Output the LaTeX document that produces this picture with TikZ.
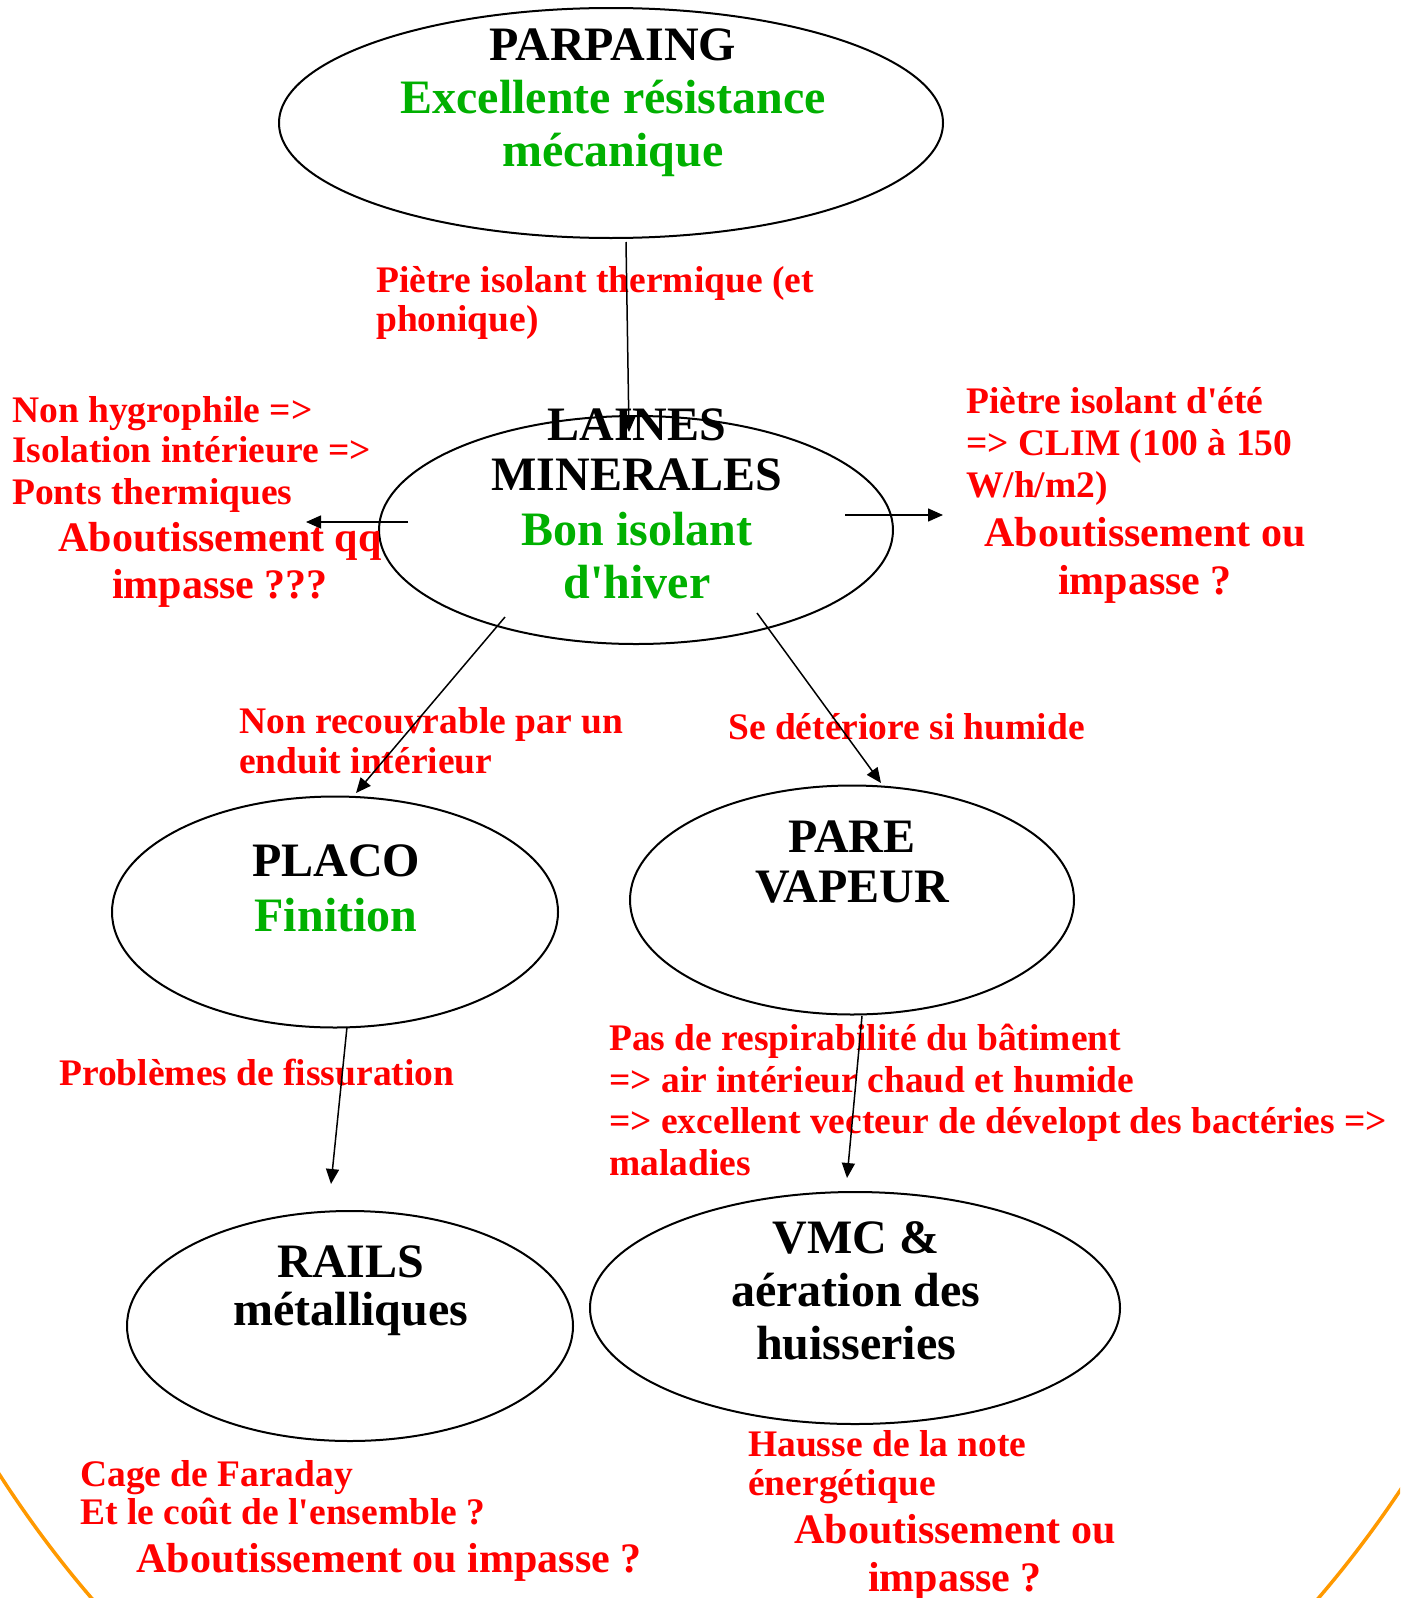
\documentclass[tikz,border=0pt]{standalone}
\usepackage{fontspec}
\setmainfont{Liberation Serif}[Ligatures=TeXOff]
\usepackage{tikz}
\usetikzlibrary{shapes.geometric,arrows.meta}
\definecolor{vert}{RGB}{0,176,0}
\definecolor{orangebord}{RGB}{255,153,0}
\tikzset{bulle/.style={ellipse,draw,line width=2pt,inner sep=0pt},
  fleche/.style={line width=1.5pt,-{Triangle[length=15pt,width=13pt]}},
  titre/.style={align=center,inner sep=0pt,anchor=base,font=\fontsize{48}{53}\selectfont\bfseries},
  note/.style={align=left,inner sep=0pt,anchor=base west,text=red,font=\fontsize{37.5}{40}\selectfont\bfseries},
  verdict/.style={align=center,inner sep=0pt,anchor=base,text=red,font=\fontsize{42}{48}\selectfont\bfseries}}

\begin{document}
\begin{tikzpicture}[x=1pt,y=-1pt]
  \useasboundingbox (0,0) rectangle (1400,1598);
  \clip (0,0) rectangle (1400,1598);
  \draw[orangebord,line width=3.5pt] (705,700) ellipse [x radius=922, y radius=1203];

  \node[bulle,minimum width=664pt,minimum height=230pt] (parpaing) at (611,123) {};
  \node[bulle,minimum width=514pt,minimum height=228pt] (laines) at (636,530) {};
  \node[bulle,minimum width=446pt,minimum height=231pt] (placo) at (335,912) {};
  \node[bulle,minimum width=444pt,minimum height=229pt] (pare) at (852,900) {};
  \node[bulle,minimum width=446pt,minimum height=230pt] (rails) at (350,1326) {};
  \node[bulle,minimum width=530pt,minimum height=232pt] (vmc) at (855,1308) {};

  \node[titre] (parpaing-t) at (613,166) {PARPAING\\\textcolor{vert}{Excellente résistance}\\\textcolor{vert}{mécanique}};
  \node[titre] (laines-t) at (637,598) {LAINES\\[-3pt]MINERALES\\[2pt]\textcolor{vert}{Bon isolant}\\\textcolor{vert}{d'hiver}};
  \node[titre] (placo-t) at (336,931) {PLACO\\[2pt]\textcolor{vert}{Finition}};
  \node[titre] (pare-t) at (852,902) {PARE\\[-3pt]VAPEUR};
  \node[titre] (rails-t) at (351,1325) {RAILS\\[-5pt]métalliques};
  \node[titre] (vmc-t) at (856,1359) {VMC \&\\aération des\\huisseries};

  \node[note] (pietre) at (376,331) {Piètre isolant thermique (et\\[-1pt]phonique)};
  \node[note] (hygro) at (12,504) {Non hygrophile =>\\Isolation intérieure =>\\[2pt]Ponts thermiques};
  \node[verdict] (impasse-g) at (220,598) {Aboutissement qq\\[-1pt]impasse ???};
  \node[note] (ete) at (966,497) {Piètre isolant d'été\\[2pt]=> CLIM (100 à 150\\[2pt]W/h/m2)};
  \node[verdict] (impasse-d) at (1145,594) {Aboutissement ou\\impasse ?};
  \node[note] (recouvrable) at (239,773) {Non recouvrable par un\\enduit intérieur};
  \node[note] (deteriore) at (728,739) {Se détériore si humide};
  \node[note] (fissuration) at (59,1085) {Problèmes de fissuration};
  \node[note] (respirabilite) at (609,1175) {Pas de respirabilité du bâtiment\\[1.5pt]=> air intérieur chaud et humide\\[1.5pt]=> excellent vecteur de dévelopt des bactéries =>\\[1.5pt]maladies};
  \node[note] (faraday) at (80,1524) {Cage de Faraday\\[-2pt]Et le coût de l'ensemble ?};
  \node[verdict] (impasse-b) at (389,1572) {Aboutissement ou impasse ?};
  \node[note] (hausse) at (748,1495) {Hausse de la note\\[-1pt]énergétique};
  \node[verdict] (impasse-v) at (955,1591) {Aboutissement ou\\impasse ?};

  \coordinate (versgauche) at (306,522);
  \coordinate (versdroite) at (943,515);

  \draw[fleche] ([shift={(15,119)}]parpaing.center) -- ([shift={(-7,-98)}]laines.center);
  \draw[fleche] ([shift={(-228,-8)}]laines.center) -- (versgauche);
  \draw[fleche] ([shift={(209,-15)}]laines.center) -- (versdroite);
  \draw[fleche] ([shift={(-131,87)}]laines.center) -- ([shift={(21,-119)}]placo.center);
  \draw[fleche] ([shift={(121,83)}]laines.center) -- ([shift={(29,-117)}]pare.center);
  \draw[fleche] ([shift={(12,115)}]placo.center) -- ([shift={(-19,-142)}]rails.center);
  \draw[fleche] ([shift={(10,116)}]pare.center) -- ([shift={(-8,-130)}]vmc.center);
\end{tikzpicture}
\end{document}
